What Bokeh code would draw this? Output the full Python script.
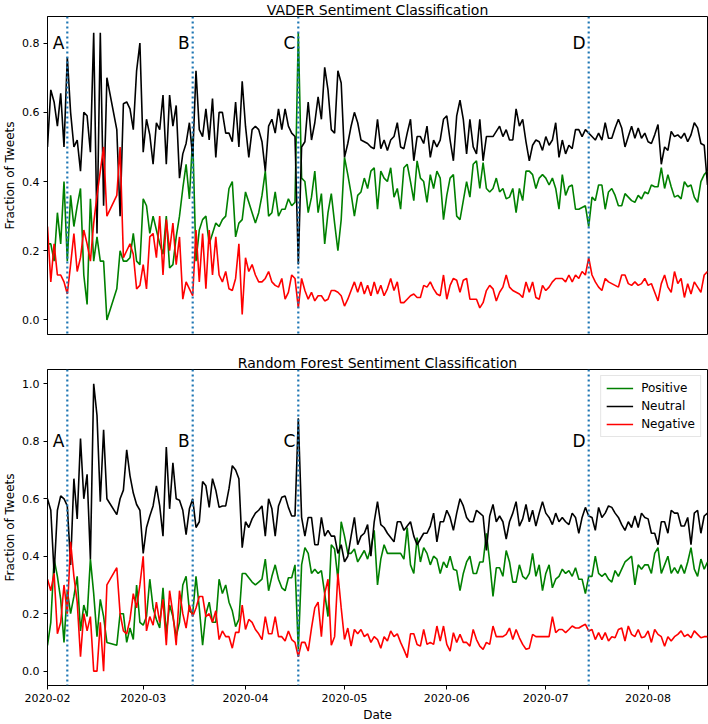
import pandas as pd
from bokeh.plotting import figure
from bokeh.layouts import column
from bokeh.models import (Range1d, FixedTicker, NumeralTickFormatter,
                          DatetimeTickFormatter, Span, ColumnDataSource)
from bokeh.core.properties import value
from bokeh.embed import file_html
from bokeh.resources import INLINE

# ---------------- data ----------------
dates = pd.date_range("2020-02-01", "2020-08-19", freq="D")
missing_dates = pd.to_datetime(["2020-02-20", "2020-02-21"])
dates = dates.drop(missing_dates)

event_dates = ["2020-02-07", "2020-03-16", "2020-04-17", "2020-07-14"]
event_labels = ["A", "B", "C", "D"]
month_ticks = ["2020-02-01", "2020-03-01", "2020-04-01", "2020-05-01",
               "2020-06-01", "2020-07-01", "2020-08-01"]

vader_pos = [
    .22, .22, .17, .31, .22, .40, .17, .36, .27, .33, .38, .13, .045, .35, .17, .24, .17, .17, .00,
    .09, .20, .17, .17, .18, .25, .17, .16, .35, .33, .25, .30, .26, .22, .19, .30, .15, .16, .24, .30, .38, .45, .35, .53,
    .17, .26, .29, .30, .22, .25, .28, .27, .29, .30, .38,
    .40, .24, .28, .29, .37, .34, .31, .28, .31, .36, .43, .30, .31, .37, .30, .32, .32, .35, .33, .34,
    .83, .41, .40, .31, .355, .43, .31, .365, .22, .31, .365, .28, .20, .29, .47, .42, .365, .30, .36, .37,
    .41, .38, .43, .44, .32, .43, .41, .40, .44, .355, .38, .32, .44, .45, .40, .345, .46,
    .41, .40, .34, .42, .38, .43, .41, .29, .36, .41, .42, .30, .29, .345, .40, .355, .45, .46, .38, .455,
    .38, .37, .38, .41, .37, .38, .35, .355, .38, .31, .38, .345, .43, .43, .42, .38, .41, .42, .41, .39,
    .41, .38, .32,
    .42, .36, .385, .39, .32, .32, .325, .33, .27, .355, .345, .39, .39, .32, .37, .38, .36, .33, .33, .365,
    .355, .345, .34, .36, .35, .37, .365, .39, .385, .385, .44, .38, .42, .385, .355, .36, .35, .40, .385, .39,
    .355, .34, .40, .42, .43,
]
vader_neu = [
    .50, .665, .63, .56, .655, .50, .76, .60, .50, .52, .43, .60, .59, .485, .83, .25, .83, .33, .70,
    .55, .30, .625, .63, .61, .55, .72, .80, .485, .58, .535, .45, .57, .55, .65, .45, .65, .56, .62, .41, .48, .51, .57, .47,
    .72, .55, .53, .61, .52, .64, .47, .60, .60, .54, .54,
    .515, .63, .50, .69, .56, .47, .55, .56, .55, .515, .43, .56, .58, .54, .61, .55, .61, .56, .54, .53,
    .16, .50, .515, .63, .52, .57, .645, .58, .73, .665, .55, .54, .72, .685, .47, .51, .56, .60, .57, .52,
    .515, .51, .50, .495, .58, .495, .52, .49, .52, .53, .57, .50, .495, .54, .58, .46, .53,
    .53, .51, .56, .47, .52, .50, .52, .58, .59, .52, .46, .59, .635, .58, .48, .58, .50, .48, .58, .46,
    .53, .53, .53, .545, .56, .53, .55, .52, .52, .61, .56, .58, .515, .46, .505, .52, .515, .49, .53, .505,
    .52, .57, .47,
    .52, .48, .505, .495, .55, .55, .53, .55, .54, .53, .52, .54, .52, .57, .525, .525, .555, .58, .555, .50,
    .53, .56, .525, .555, .525, .54, .515, .51, .535, .565, .45, .50, .49, .545, .53, .535, .525, .54, .515, .535,
    .57, .555, .51, .505, .39,
]
vader_neg = [
    .27, .11, .22, .13, .13, .11, .075, .16, .25, .14, .18, .26, .22, .17, .28, .36, .43, .50, .30,
    .36, .50, .18, .20, .22, .19, .09, .10, .16, .09, .24, .25, .18, .30, .13, .29, .20, .28, .16, .24, .06, .11, .09, .07,
    .26, .11, .25, .09, .26, .13, .24, .13, .11, .14, .09,
    .085, .12, .22, .016, .18, .14, .16, .13, .11, .11, .12, .14, .11, .10, .095, .12, .06, .08, .13, .12,
    .035, .12, .085, .06, .08, .055, .07, .07, .055, .06, .085, .085, .08, .07, .04, .06, .085, .11, .08, .11,
    .075, .10, .07, .11, .075, .10, .07, .09, .12, .085, .11, .05, .05, .06, .07, .075, .065,
    .065, .10, .095, .11, .09, .075, .07, .13, .06, .10, .12, .115, .08, .115, .12, .06, .06, .06, .035, .05,
    .085, .10, .09, .055, .08, .095, .13, .095, .085, .08, .075, .065, .11, .08, .11, .065, .06, .10, .085, .095,
    .11, .12, .12,
    .12, .11, .13, .11, .13, .12, .14, .13, .18, .13, .11, .095, .085, .12, .11, .105, .10, .095, .13, .13,
    .105, .10, .11, .10, .105, .12, .10, .105, .08, .055, .105, .13, .095, .08, .14, .105, .12, .065, .105, .075,
    .11, .095, .08, .13, .14,
]

rf_pos = [
    .09, .17, .39, .33, .25, .10, .28, .20, .26, .33, .14, .23, .19, .39, .27, .12, .25, .19, .10,
    .09, .20, .20, .10, .15, .11, .30, .17, .16, .19, .32, .22, .18, .15, .29, .13, .23, .19, .12, .17, .30, .33, .21, .20,
    .33, .22, .09, .20, .24, .17, .17, .32, .27, .30, .24,
    .21, .155, .18, .34, .34, .325, .31, .30, .31, .32, .39, .28, .33, .37, .32, .29, .28, .325, .325, .37,
    .075, .37, .43, .41, .34, .355, .34, .35, .27, .19, .44, .425, .32, .52, .47, .41, .41, .425, .38, .40,
    .42, .39, .43, .49, .30, .39, .44, .41, .41, .41, .41, .41, .39, .50, .37, .34, .465,
    .38, .43, .41, .37, .40, .39, .34, .38, .36, .40, .355, .35, .28, .34, .38, .40, .34, .34, .38, .38,
    .48, .38, .26, .36, .36, .33, .42, .38, .31, .31, .37, .33, .32, .34, .41, .33, .37, .28, .34, .37,
    .29, .32, .33, .355, .34, .35, .33, .36, .32, .32, .27, .33, .33, .40, .34, .33, .34, .32, .31, .35,
    .33, .355, .38, .39, .40, .30, .37, .355, .37, .37, .34, .41, .43, .34, .37, .40, .34, .36, .34, .37,
    .34, .38, .43, .355, .33, .39, .355, .38,
]
rf_neu = [
    .60, .56, .34, .56, .61, .60, .575, .37, .67, .53, .81, .60, .685, .39, 1.0, .89, .59, .84, .60,
    .545, .60, .63, .77, .68, .62, .58, .56, .41, .50, .54, .575, .645, .575, .47, .78, .565, .725, .60, .595, .56, .475, .565, .60,
    .50, .52, .66, .645, .57, .67, .63, .57, .575, .575, .635,
    .715, .70, .67, .43, .52, .50, .53, .55, .56, .575, .47, .60, .565, .47, .575, .605, .61, .57, .54, .54,
    .88, .535, .47, .535, .535, .44, .44, .535, .47, .49, .47, .47, .41, .44, .38, .40, .47, .535, .44, .47,
    .48, .51, .40, .52, .59, .51, .50, .48, .465, .45, .52, .52, .49, .505, .52, .47, .44,
    .46, .48, .48, .505, .55, .45, .52, .52, .56, .535, .49, .55, .60, .575, .535, .52, .52, .56, .55, .54,
    .42, .54, .58, .52, .54, .52, .46, .52, .55, .59, .505, .53, .58, .52, .56, .505, .55, .59, .55, .535,
    .51, .55, .52, .535, .52, .51, .55, .535, .48, .535, .57, .54, .535, .49, .57, .535, .55, .575, .57, .55,
    .535, .51, .49, .52, .50, .54, .50, .55, .535, .53, .48, .48, .44, .52, .52, .48, .56, .55, .55, .505,
    .505, .535, .44, .55, .56, .48, .54, .55,
]
rf_neg = [
    .32, .28, .34, .13, .17, .30, .20, .45, .33, .24, .05, .20, .14, .19, .00, .00, .17, .00, .30,
    .36, .20, .14, .13, .18, .27, .22, .30, .40, .14, .19, .16, .24, .17, .25, .09, .28, .20, .09, .28, .20, .15, .23, .19,
    .22, .26, .26, .19, .20, .17, .21, .11, .14, .12, .12,
    .08, .135, .135, .23, .145, .18, .17, .145, .13, .11, .19, .13, .13, .19, .12, .12, .105, .14, .11, .10,
    .05, .10, .10, .07, .15, .22, .24, .12, .27, .32, .09, .12, .34, .22, .11, .15, .087, .145, .13, .145,
    .12, .13, .10, .12, .11, .08, .12, .105, .14, .12, .13, .10, .075, .047, .13, .13, .093,
    .087, .145, .093, .10, .093, .157, .105, .157, .093, .07, .134, .10, .128, .10, .10, .087, .145, .11, .087, .076,
    .10, .093, .157, .12, .12, .12, .128, .15, .11, .145, .116, .093, .076, .08, .128, .12, .12, .12, .12, .12,
    .19, .134, .145, .145, .134, .145, .157, .15, .15, .157, .163, .14, .145, .11, .134, .11, .134, .105, .12, .116,
    .145, .15, .105, .157, .128, .12, .145, .116, .12, .14, .10, .145, .128, .12, .087, .12, .105, .12, .128, .14,
    .12, .128, .116, .14, .128, .116, .12, .12,
]

for s in (vader_pos, vader_neu, vader_neg, rf_pos, rf_neu, rf_neg):
    assert len(s) == len(dates), (len(s), len(dates))

# ---------------- styling helpers ----------------
FONT = "DejaVu Sans"
GREEN, BLACK, RED, BLUE = "#008000", "#000000", "#ff0000", "#1f77b4"


def ms(d):
    return pd.Timestamp(d).value / 1e6


def make_panel(title, pos, neu, neg, y_range, y_ticks, height, show_x, legend):
    p = figure(width=708, height=height, x_axis_type="datetime",
               x_range=Range1d(dates[0], dates[-1]), y_range=y_range,
               output_backend="svg", toolbar_location=None,
               min_border_left=46, min_border_right=1,
               min_border_top=0, min_border_bottom=0 if show_x else 19)
    p.title.text = title
    p.title.align = "center"
    p.title.text_font = FONT
    p.title.text_font_size = "14px"
    p.title.text_font_style = "normal"
    p.title.text_color = "black"
    p.title.standoff = -2
    p.title.offset = 0

    src = ColumnDataSource(dict(date=dates, pos=pos, neu=neu, neg=neg))
    kw = dict(source=src, line_width=1.6)
    if legend:
        p.line("date", "pos", color=GREEN, legend_label="Positive", **kw)
        p.line("date", "neu", color=BLACK, legend_label="Neutral", **kw)
        p.line("date", "neg", color=RED, legend_label="Negative", **kw)
    else:
        p.line("date", "pos", color=GREEN, **kw)
        p.line("date", "neu", color=BLACK, **kw)
        p.line("date", "neg", color=RED, **kw)

    for d in event_dates:
        p.add_layout(Span(location=ms(d), dimension="height", line_color=BLUE,
                          line_width=2.2, line_dash="2 3"))
    lsrc = ColumnDataSource(dict(date=pd.to_datetime(event_dates),
                                 y=[0.8] * len(event_dates), label=event_labels))
    p.text("date", "y", text="label", source=lsrc, text_align="right",
           text_baseline="alphabetic", text_font=value(FONT),
           text_font_size="17px", text_color="black", x_offset=-3)

    p.xgrid.visible = False
    p.ygrid.visible = False
    p.outline_line_color = "black"
    p.outline_line_width = 1
    p.background_fill_color = "white"
    p.border_fill_color = "white"

    p.yaxis.ticker = FixedTicker(ticks=y_ticks)
    p.yaxis.formatter = NumeralTickFormatter(format="0.0")
    p.yaxis.axis_label = "Fraction of Tweets"
    for ax in (p.xaxis[0], p.yaxis[0]):
        ax.axis_line_color = "black"
        ax.major_tick_line_color = "black"
        ax.major_tick_out = 4
        ax.major_tick_in = 0
        ax.minor_tick_line_color = None
        ax.major_label_text_font = FONT
        ax.major_label_text_font_size = "11px"
        ax.major_label_text_color = "black"
        ax.axis_label_text_font = FONT
        ax.axis_label_text_font_size = "12px"
        ax.axis_label_text_font_style = "normal"
        ax.axis_label_text_color = "black"
        ax.axis_label_standoff = 3
    p.yaxis.major_label_standoff = 4
    p.yaxis.axis_label_standoff = 2
    p.xaxis.major_label_standoff = 4

    p.xaxis.ticker = FixedTicker(ticks=[ms(t) for t in month_ticks])
    fmt = "%Y-%m"
    p.xaxis.formatter = DatetimeTickFormatter(
        milliseconds=fmt, seconds=fmt, minsec=fmt, minutes=fmt, hourmin=fmt,
        hours=fmt, days=fmt, months=fmt, years=fmt)
    p.xaxis.axis_label = "Date"
    p.xaxis.visible = show_x

    if legend:
        lg = p.legend[0]
        lg.location = "top_right"
        lg.label_text_font = FONT
        lg.label_text_font_size = "12px"
        lg.label_text_color = "black"
        lg.glyph_width = 27
        lg.glyph_height = 14
        lg.label_height = 14
        lg.label_standoff = 8
        lg.spacing = 4
        lg.padding = 5
        lg.margin = 6
        lg.border_line_color = "#cccccc"
        lg.border_line_width = 1
        lg.background_fill_alpha = 0.8
    return p


p1 = make_panel("VADER Sentiment Classification", vader_pos, vader_neu, vader_neg,
                Range1d(-0.042, 0.877), [0.0, 0.2, 0.4, 0.6, 0.8], 353, False, False)
p2 = make_panel("Random Forest Sentiment Classification", rf_pos, rf_neu, rf_neg,
                Range1d(-0.05, 1.05), [0.0, 0.2, 0.4, 0.6, 0.8, 1.0], 371, True, True)

layout = column(p1, p2, spacing=0)
open("out.html", "w").write(file_html(layout, INLINE))
